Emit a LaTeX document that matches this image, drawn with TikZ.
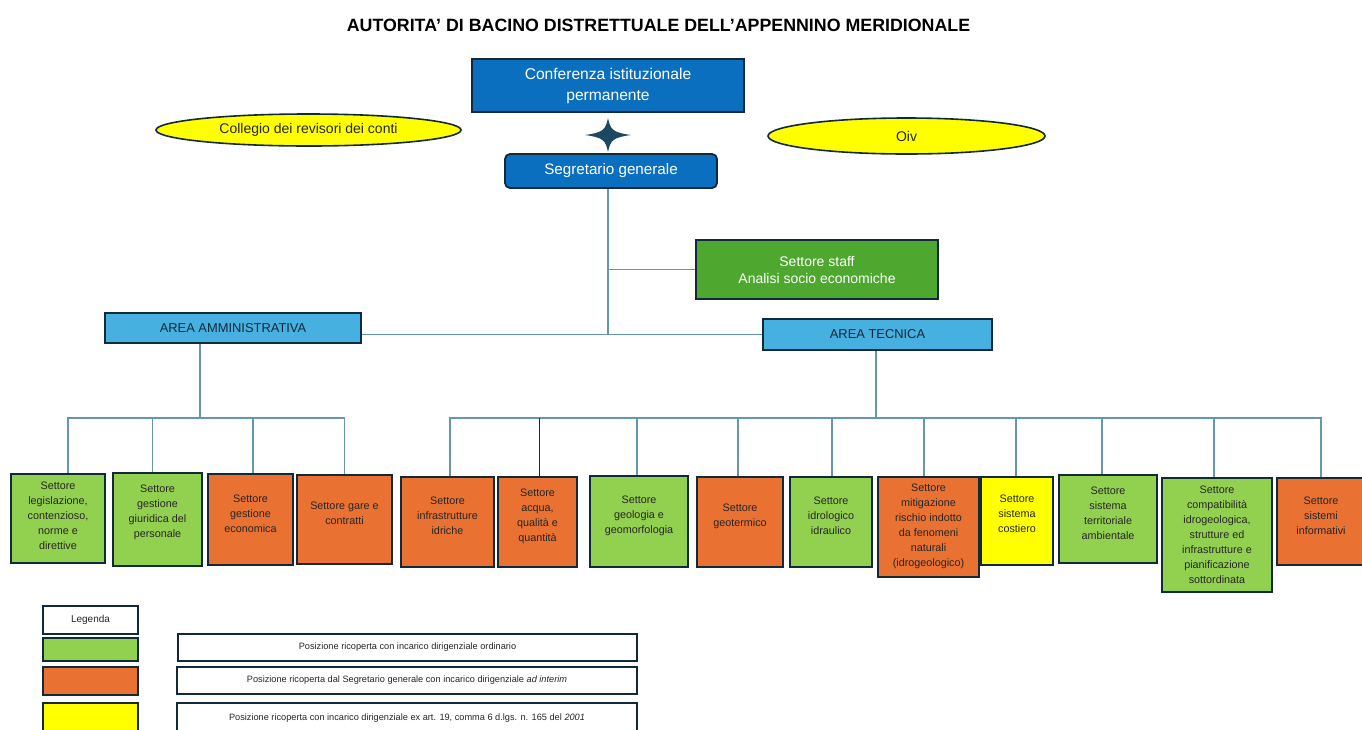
\documentclass[tikz,border=0pt]{standalone}
\usepackage{fontspec}
\setmainfont{Liberation Sans}
\usetikzlibrary{shapes.geometric}

\definecolor{navy}{HTML}{12293A}
\definecolor{bluedark}{HTML}{0B6FC0}
\definecolor{bluelight}{HTML}{46B0E0}
\definecolor{grnlight}{HTML}{92D050}
\definecolor{grnstaff}{HTML}{4EA72E}
\definecolor{orng}{HTML}{E97132}
\definecolor{yell}{HTML}{FFFF00}
\definecolor{connc}{HTML}{6496AF}
\definecolor{txt}{HTML}{262626}
\definecolor{starc}{HTML}{1E4862}

\begin{document}
\begin{tikzpicture}[x=1pt,y=-1pt,
  box/.style={draw=navy, line width=2.6pt, inner sep=0pt},
  btxt/.style={align=center, text=txt, font=\fontsize{10.8}{15}\selectfont, yshift=6pt},
  topbox/.style={box, fill=bluedark, text=white, align=center},
  area/.style={box, fill=bluelight, text=navy, font=\fontsize{12.9}{15}\selectfont},
  oval/.style={ellipse, draw=navy, line width=1.6pt, fill=yell, inner sep=0pt, text=txt, font=\fontsize{14}{16}\selectfont},
  legtxt/.style={box, fill=white, text=txt, font=\fontsize{9.2}{11}\selectfont},
  conn/.style={draw=connc, line width=1.1pt}
]
\clip (0,0) rectangle (1362,729);
\fill[white] (0,0) rectangle (1362,729);

% Title
\node[font=\bfseries\fontsize{17.8}{21}\selectfont, text=black] (title) at (658.5,25)
  {AUTORITA’ DI BACINO DISTRETTUALE DELL’APPENNINO MERIDIONALE};

% Top level
\node[topbox, minimum width=272, minimum height=53, font=\fontsize{15.6}{21}\selectfont] (conf) at (608,85.5)
  {Conferenza istituzionale\\permanente};
\node[oval, minimum width=305, minimum height=32] (coll) at (308.5,130) {Collegio dei revisori dei conti};
\node[oval, minimum width=277, minimum height=36] (oiv) at (906.5,136) {Oiv};

% Four-pointed star
\begin{scope}[shift={(608,135)}]
  \fill[starc] (-23,0) .. controls (-5,-2.5) and (-2.5,-5) .. (0,-17)
               .. controls (2.5,-5) and (5,-2.5) .. (23,0)
               .. controls (5,2.5) and (2.5,5) .. (0,17)
               .. controls (-2.5,5) and (-5,2.5) .. (-23,0) -- cycle;
\end{scope}

\node[topbox, rounded corners=5pt, line width=1.8pt, minimum width=212, minimum height=34,
      font=\fontsize{15.2}{17}\selectfont] (seg) at (611,171) {Segretario generale};

\node[box, fill=grnstaff, text=white, align=center, minimum width=242, minimum height=59,
      font=\fontsize{14}{17}\selectfont] (staff) at (817,269.5)
  {Settore staff\\Analisi socio economiche};

\node[area, minimum width=256, minimum height=30] (amm) at (233,328) {AREA AMMINISTRATIVA};
\node[area, minimum width=229, minimum height=31] (tec) at (877.5,334.5) {AREA TECNICA};

% Administrative sectors
\node[box, fill=grnlight, minimum width=94, minimum height=89,
  label={[btxt, yshift=-3.5pt]center:{Settore\\legislazione,\\contenzioso,\\norme e\\direttive}}] (s1) at (58,518.5) {};
\node[box, fill=grnlight, minimum width=89, minimum height=93,
  label={[btxt, yshift=1pt]center:{Settore\\gestione\\giuridica del\\personale}}] (s2) at (157.5,519.5) {};
\node[box, fill=orng, minimum width=85, minimum height=91,
  label={[btxt]center:{Settore\\gestione\\economica}}] (s3) at (250.5,519.5) {};
\node[box, fill=orng, minimum width=95, minimum height=89,
  label={[btxt]center:{Settore gare e\\contratti}}] (s4) at (344.5,519.5) {};

% Technical sectors
\node[box, fill=orng, minimum width=93, minimum height=90,
  label={[btxt]center:{Settore\\infrastrutture\\idriche}}] (s5) at (447.5,522) {};
\node[box, fill=orng, minimum width=79, minimum height=90,
  label={[btxt]center:{Settore\\acqua,\\qualità e\\quantità}}] (s6) at (537.5,522) {};
\node[box, fill=grnlight, minimum width=98, minimum height=91,
  label={[btxt]center:{Settore\\geologia e\\geomorfologia}}] (s7) at (639,521.5) {};
\node[box, fill=orng, minimum width=86, minimum height=90,
  label={[btxt]center:{Settore\\geotermico}}] (s8) at (740,522) {};
\node[box, fill=grnlight, minimum width=82, minimum height=90,
  label={[btxt]center:{Settore\\idrologico\\idraulico}}] (s9) at (831,522) {};
\node[box, fill=orng, minimum width=101, minimum height=100,
  label={[btxt, yshift=-5pt]center:{Settore\\mitigazione\\rischio indotto\\da fenomeni\\naturali\\(idrogeologico)}}] (s10) at (928.5,527) {};
\node[box, fill=yell, minimum width=72, minimum height=88,
  label={[btxt, yshift=1pt]center:{Settore\\sistema\\costiero}}] (s11) at (1017,521) {};
\node[box, fill=grnlight, minimum width=98, minimum height=88,
  label={[btxt]center:{Settore\\sistema\\territoriale\\ambientale}}] (s12) at (1108,519) {};
\node[box, fill=grnlight, minimum width=110, minimum height=114,
  label={[btxt, yshift=-6pt]center:{Settore\\compatibilità\\idrogeologica,\\strutture ed\\infrastrutture e\\pianificazione\\sottordinata}}] (s13) at (1217,535) {};
\node[box, fill=orng, minimum width=88, minimum height=87,
  label={[btxt]center:{Settore\\sistemi\\informativi}}] (s14) at (1321,521.5) {};

% Connectors from the top
\draw[conn] ([xshift=-3pt]seg.south) -- ([xshift=-3pt]seg.south |- tec.west);
\draw[conn] ([xshift=-3pt]seg.south |- staff.west) -- (staff.west);
\draw[conn] (amm.east |- tec.west) -- (tec.west);

% Administrative tree
\coordinate (abus) at (200,418);
\draw[conn] (amm.south -| abus) -- (abus);
\draw[conn] ([xshift=10pt]s1.north) |- (s4.north |- abus) -- (s4.north);
\draw[conn] ([xshift=-5pt]s2.north) -- ([xshift=-5pt]s2.north |- abus);
\draw[conn] ([xshift=2.5pt]s3.north) -- ([xshift=2.5pt]s3.north |- abus);

% Technical tree
\coordinate (tbus) at (876,418);
\draw[conn] (tec.south -| tbus) -- (tbus);
\draw[conn] ([xshift=2.5pt]s5.north) |- (s14.north |- tbus) -- (s14.north);
\draw[draw=black!85, line width=0.9pt] ([xshift=1.5pt]s6.north) -- ([xshift=1.5pt]s6.north |- tbus);
\foreach \n/\dx in {s7/-2,s8/-2,s9/1,s10/-4.5,s11/-1,s12/-6,s13/-3}
  \draw[conn] ([xshift=\dx pt]\n.north) -- ([xshift=\dx pt]\n.north |- tbus);

% Legend
\node[box, fill=white, text=txt, font=\fontsize{10}{12}\selectfont, minimum width=95, minimum height=28] (leg) at (90.5,620) {Legenda};
\node[box, fill=grnlight, minimum width=95, minimum height=23] (lg) at (90.5,649.5) {};
\node[box, fill=orng, minimum width=95, minimum height=28] (lo) at (90.5,681) {};
\node[box, fill=yell, minimum width=95, minimum height=30] (ly) at (90.5,718) {};
\node[legtxt, minimum width=459, minimum height=27] (tg) at (407.5,647.5)
  {Posizione ricoperta con incarico dirigenziale ordinario};
\node[legtxt, minimum width=460, minimum height=27] (to) at (407,680.5)
  {Posizione ricoperta dal Segretario generale con incarico dirigenziale \textit{ad interim}};
\node[legtxt, minimum width=460, minimum height=30] (ty) at (407,718)
  {Posizione ricoperta con incarico dirigenziale ex art. 19, comma 6 d.lgs. n. 165 del \textit{2001}};
\end{tikzpicture}
\end{document}
